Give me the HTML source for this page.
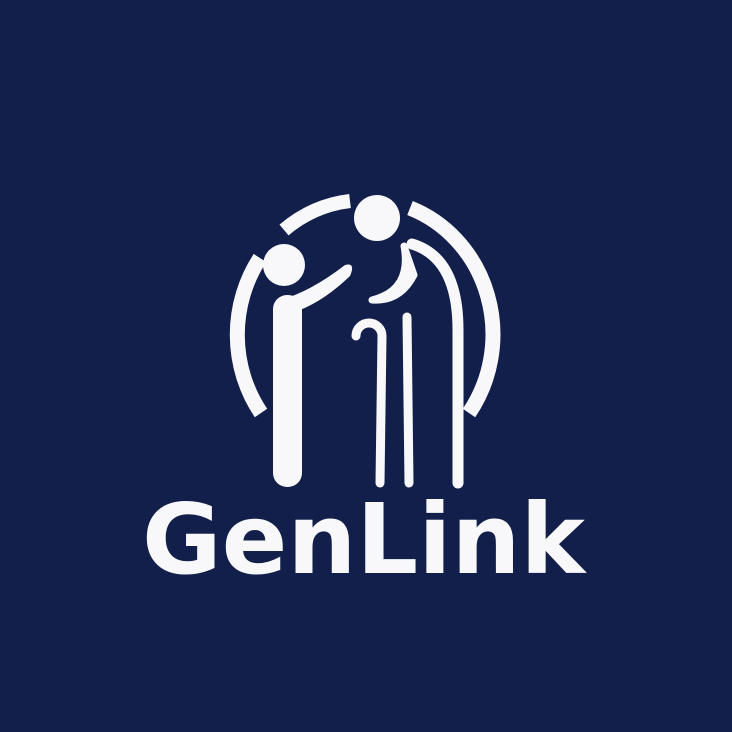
<!DOCTYPE html>
<html><head><meta charset="utf-8"><style>
html,body{margin:0;padding:0;background:#121f4a;}
svg{display:block}
</style></head><body>
<svg width="732" height="732" viewBox="0 0 732 732">
<rect width="732" height="732" fill="#121f4a"/>
<g fill="none" stroke="#f8f8fa" stroke-linecap="butt">
  <path d="M 261 413 A 128 135 0 0 1 260 258" stroke-width="15"/>
  <path d="M 284 230 A 128 135 0 0 1 350 201" stroke-width="14"/>
  <path d="M 410 208 A 128 135 0 0 1 469 413" stroke-width="15"/>
</g>
<g fill="#f8f8fa">
  <circle cx="284" cy="265" r="21"/>
  <rect x="273" y="295" width="29" height="192" rx="14"/>
  <path d="M 280 300 Q 310 292 345 265 Q 356 262 350 276 Q 325 300 300 310 Z"/>
</g>
<g>
  <circle cx="377" cy="218" r="23" fill="#f8f8fa"/>
  <path d="M 412 244 Q 458 258 458 330 L 458 483" fill="none" stroke="#f8f8fa" stroke-width="11" stroke-linecap="round"/>
  <path d="M 404 246 Q 412 290 372 300 Q 400 302 414 275 Z" fill="#f8f8fa" stroke="#f8f8fa" stroke-width="7" stroke-linejoin="round"/>
  <path d="M 407 317 L 409 483" fill="none" stroke="#f8f8fa" stroke-width="9" stroke-linecap="round"/>
  <path d="M 356 336 A 13 13 0 0 1 382 336 L 380 483" fill="none" stroke="#f8f8fa" stroke-width="9" stroke-linecap="round"/>
</g>
<text x="142" y="573" textLength="443" lengthAdjust="spacingAndGlyphs" font-family="DejaVu Sans, Liberation Sans, sans-serif" font-weight="bold" font-size="97" fill="#f8f8fa">GenLink</text>
</svg>
</body></html>
